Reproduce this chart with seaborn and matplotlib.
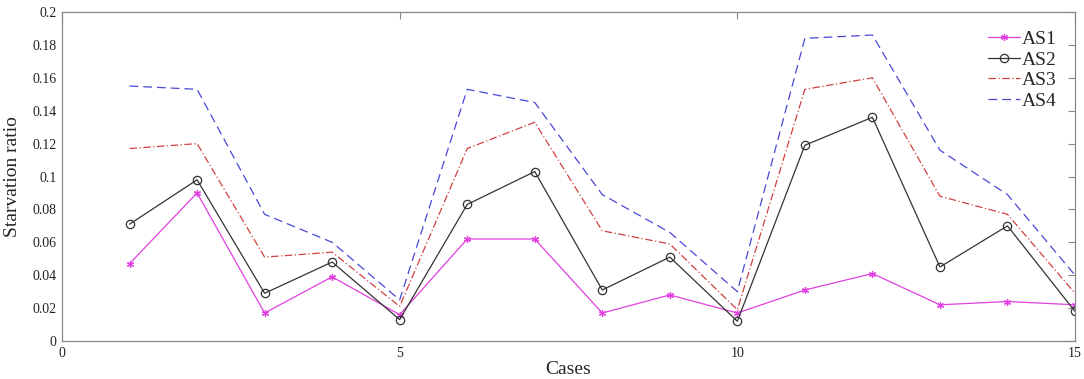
import matplotlib
matplotlib.use("Agg")
import matplotlib.pyplot as plt
import seaborn as sns
import pandas as pd

cases = list(range(1, 16))
as1 = [0.047, 0.090, 0.017, 0.039, 0.016, 0.062, 0.062, 0.017, 0.028, 0.017, 0.031, 0.041, 0.022, 0.024, 0.022]
as2 = [0.071, 0.098, 0.029, 0.048, 0.013, 0.083, 0.103, 0.031, 0.051, 0.012, 0.119, 0.136, 0.045, 0.070, 0.018]
as3 = [0.117, 0.120, 0.051, 0.054, 0.021, 0.117, 0.133, 0.067, 0.059, 0.019, 0.153, 0.160, 0.088, 0.077, 0.029]
as4 = [0.155, 0.153, 0.077, 0.060, 0.025, 0.153, 0.145, 0.089, 0.066, 0.030, 0.184, 0.186, 0.116, 0.089, 0.040]

sns.set_style("white")
plt.rcParams['font.family'] = ['Liberation Serif', 'DejaVu Serif']

fig = plt.figure(figsize=(10.84, 3.79), dpi=100)
ax = fig.add_axes([0.0572, 0.1003, 0.9345, 0.868])

series = [
    ('AS1', as1, '#e040e0', '-', (6, 2, 0), 5),
    ('AS2', as2, '#333333', '-', 'o', 6),
    ('AS3', as3, '#d04040', (0, (6, 2, 1, 2)), None, 0),
    ('AS4', as4, '#4848d8', (0, (7, 4)), None, 0),
]
for name, vals, color, ls, mk, ms in series:
    df = pd.DataFrame({'Cases': cases, 'ratio': vals})
    sns.lineplot(data=df, x='Cases', y='ratio', ax=ax, color=color, linewidth=0.9,
                 linestyle=ls, marker=mk, markersize=ms, markerfacecolor='none',
                 markeredgecolor=color, markeredgewidth=0.9, label=name)

ax.set_xlim(0, 15)
ax.set_ylim(0, 0.2)
ax.set_xticks([0, 5, 10, 15])
ax.set_xticklabels(['0', '5', '10', '15'])
ax.set_yticks([0, 0.02, 0.04, 0.06, 0.08, 0.1, 0.12, 0.14, 0.16, 0.18, 0.2])
ax.set_yticklabels(['0', '0.02', '0.04', '0.06', '0.08', '0.1', '0.12', '0.14', '0.16', '0.18', '0.2'])
ax.tick_params(direction='in', length=5, width=0.8, color='#888888', labelsize=10,
               top=True, right=True, labelcolor='#222222', pad=4)
for s in ax.spines.values():
    s.set_color('#888888')
    s.set_linewidth(0.9)
ax.set_xlabel('Cases', fontsize=14, labelpad=1)
ax.set_ylabel('Starvation ratio', fontsize=14, labelpad=8)

leg = ax.legend(loc='upper right', frameon=False, fontsize=14, handlelength=1.6,
                handletextpad=0.1, labelspacing=0.15, borderaxespad=0.3,
                bbox_to_anchor=(0.995, 0.985))

fig.savefig('out.png', dpi=100)
